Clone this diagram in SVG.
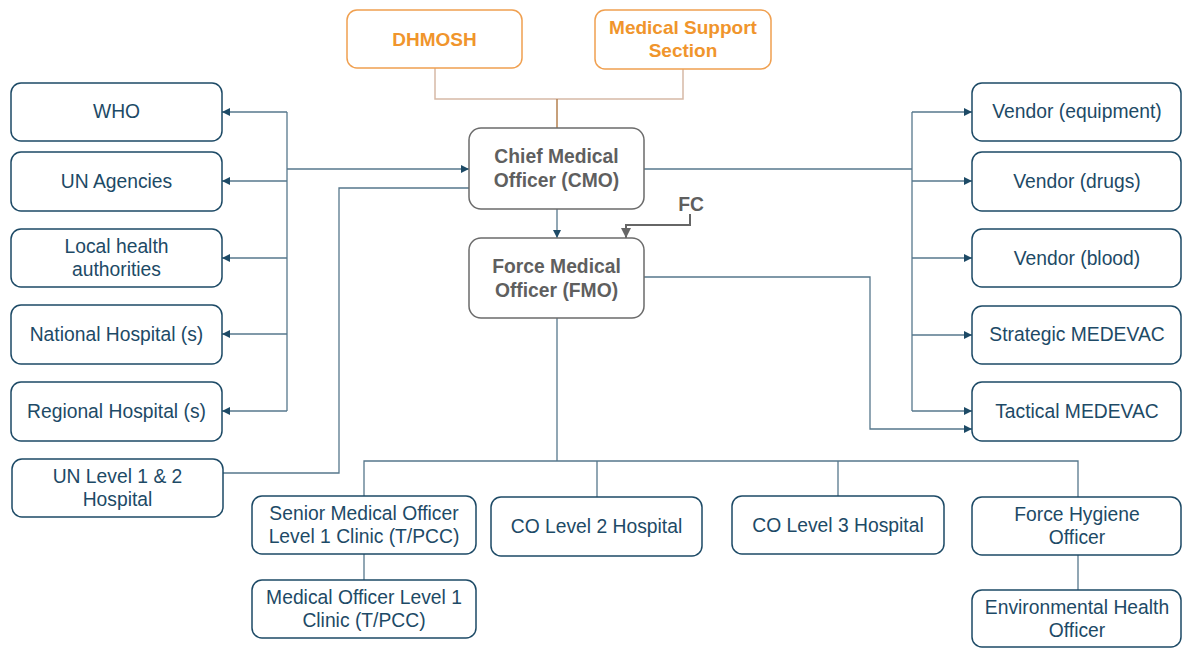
<svg xmlns="http://www.w3.org/2000/svg" width="1182" height="648" viewBox="0 0 1182 648">
  <defs>
    <marker id="arr" viewBox="0 0 10 10" refX="10" refY="5" markerWidth="9" markerHeight="8" markerUnits="userSpaceOnUse" orient="auto">
      <path d="M0,0 L10,5 L0,10 z" fill="#1d4a66"/>
    </marker>
    <marker id="arrGray" viewBox="0 0 10 10" refX="10" refY="5" markerWidth="10" markerHeight="10" markerUnits="userSpaceOnUse" orient="auto">
      <path d="M0,0 L10,5 L0,10 z" fill="#666666"/>
    </marker>
    <style>
      .box { fill: #ffffff; stroke: #1d4a66; stroke-width: 1.5; }
      .boxOrange { fill: #ffffff; stroke: #f0a050; stroke-width: 1.5; }
      .boxGray { fill: #ffffff; stroke: #6b6b6b; stroke-width: 1.5; }
      .t { font-family: "Liberation Sans", Arial, sans-serif; font-size: 19.3px; fill: #1d4a66; text-anchor: middle; }
      .tOrange { font-family: "Liberation Sans", Arial, sans-serif; font-size: 19px; font-weight: bold; fill: #f0952c; text-anchor: middle; }
      .tGray { font-family: "Liberation Sans", Arial, sans-serif; font-size: 19.3px; font-weight: bold; fill: #5f5f5f; text-anchor: middle; }
      .ln { fill: none; stroke: #56778c; stroke-width: 1.3; }
      .lnTan { fill: none; stroke: #d6b9a6; stroke-width: 1.5; }
      .lnBrown { fill: none; stroke: #b5804f; stroke-width: 1.5; }
      .lnGray { fill: none; stroke: #666666; stroke-width: 2; }
    </style>
  </defs>

  <g id="connectors">
    <!-- headquarters to CMO -->
    <path class="lnTan" d="M435,68 V99 H683 V69"/>
    <path class="lnBrown" d="M557,99 V128"/>
    <!-- CMO to FMO -->
    <path class="ln" d="M557,209 V238" marker-end="url(#arr)"/>
    <!-- FC to FMO -->
    <path class="lnGray" d="M690,214 V225 H626 V238" marker-end="url(#arrGray)"/>
    <!-- left bus -->
    <path class="ln" d="M287,112 V411"/>
    <path class="ln" d="M287,112 H222" marker-end="url(#arr)"/>
    <path class="ln" d="M287,181 H222" marker-end="url(#arr)"/>
    <path class="ln" d="M287,258 H222" marker-end="url(#arr)"/>
    <path class="ln" d="M287,334 H222" marker-end="url(#arr)"/>
    <path class="ln" d="M287,411 H222" marker-end="url(#arr)"/>
    <path class="ln" d="M287,169 H469" marker-end="url(#arr)"/>
    <!-- UN Level 1 & 2 to CMO -->
    <path class="ln" d="M223,473 H339 V188 H469"/>
    <!-- right bus -->
    <path class="ln" d="M644,169 H912"/>
    <path class="ln" d="M912,112 V411"/>
    <path class="ln" d="M912,112 H972" marker-end="url(#arr)"/>
    <path class="ln" d="M912,181 H972" marker-end="url(#arr)"/>
    <path class="ln" d="M912,258 H972" marker-end="url(#arr)"/>
    <path class="ln" d="M912,335 H972" marker-end="url(#arr)"/>
    <path class="ln" d="M912,411 H972" marker-end="url(#arr)"/>
    <!-- FMO to Tactical MEDEVAC -->
    <path class="ln" d="M644,277 H870 V429 H972" marker-end="url(#arr)"/>
    <!-- FMO down to units -->
    <path class="ln" d="M557,318 V461"/>
    <path class="ln" d="M364,496 V461 H1078 V497"/>
    <path class="ln" d="M597,461 V497"/>
    <path class="ln" d="M838,461 V496"/>
    <path class="ln" d="M364,554 V580"/>
    <path class="ln" d="M1078,555 V590"/>
  </g>

  <g id="dhmosh">
    <rect class="boxOrange" x="347" y="10" width="175" height="58" rx="10"/>
    <text class="tOrange" x="434.5" y="46">DHMOSH</text>
  </g>
  <g id="medical-support-section">
    <rect class="boxOrange" x="595" y="10" width="176" height="59" rx="10"/>
    <text class="tOrange" x="683" y="34">Medical Support</text>
    <text class="tOrange" x="683" y="57">Section</text>
  </g>

  <g id="cmo">
    <rect class="boxGray" x="469" y="128" width="175" height="81" rx="12"/>
    <text class="tGray" x="556.5" y="163">Chief Medical</text>
    <text class="tGray" x="556.5" y="187">Officer (CMO)</text>
  </g>
  <g id="fmo">
    <rect class="boxGray" x="469" y="238" width="175" height="80" rx="12"/>
    <text class="tGray" x="556.5" y="273">Force Medical</text>
    <text class="tGray" x="556.5" y="297">Officer (FMO)</text>
  </g>
  <g id="fc">
    <text class="tGray" x="691" y="211">FC</text>
  </g>

  <g id="who">
    <rect class="box" x="11" y="83" width="211" height="58" rx="10"/>
    <text class="t" x="116.5" y="118">WHO</text>
  </g>
  <g id="un-agencies">
    <rect class="box" x="11" y="152" width="211" height="59" rx="10"/>
    <text class="t" x="116.5" y="188">UN Agencies</text>
  </g>
  <g id="local-health">
    <rect class="box" x="11" y="229" width="211" height="58" rx="10"/>
    <text class="t" x="116.5" y="253">Local health</text>
    <text class="t" x="116.5" y="276">authorities</text>
  </g>
  <g id="national-hospital">
    <rect class="box" x="11" y="305" width="211" height="59" rx="10"/>
    <text class="t" x="116.5" y="341">National Hospital (s)</text>
  </g>
  <g id="regional-hospital">
    <rect class="box" x="11" y="382" width="211" height="59" rx="10"/>
    <text class="t" x="116.5" y="418">Regional Hospital (s)</text>
  </g>
  <g id="un-level-1-2">
    <rect class="box" x="12" y="459" width="211" height="58" rx="10"/>
    <text class="t" x="117.5" y="483">UN Level 1 &amp; 2</text>
    <text class="t" x="117.5" y="506">Hospital</text>
  </g>

  <g id="vendor-equipment">
    <rect class="box" x="972" y="83" width="209" height="58" rx="10"/>
    <text class="t" x="1077" y="118">Vendor (equipment)</text>
  </g>
  <g id="vendor-drugs">
    <rect class="box" x="972" y="152" width="209" height="59" rx="10"/>
    <text class="t" x="1077" y="188">Vendor (drugs)</text>
  </g>
  <g id="vendor-blood">
    <rect class="box" x="972" y="229" width="209" height="58" rx="10"/>
    <text class="t" x="1077" y="265">Vendor (blood)</text>
  </g>
  <g id="strategic-medevac">
    <rect class="box" x="972" y="306" width="209" height="58" rx="10"/>
    <text class="t" x="1077" y="341">Strategic MEDEVAC</text>
  </g>
  <g id="tactical-medevac">
    <rect class="box" x="972" y="382" width="209" height="59" rx="10"/>
    <text class="t" x="1077" y="418">Tactical MEDEVAC</text>
  </g>

  <g id="senior-medical-officer">
    <rect class="box" x="252" y="496" width="224" height="58" rx="10"/>
    <text class="t" x="364" y="520">Senior Medical Officer</text>
    <text class="t" x="364" y="543">Level 1 Clinic (T/PCC)</text>
  </g>
  <g id="medical-officer">
    <rect class="box" x="252" y="580" width="224" height="58" rx="10"/>
    <text class="t" x="364" y="604">Medical Officer Level 1</text>
    <text class="t" x="364" y="627">Clinic (T/PCC)</text>
  </g>
  <g id="co-level-2">
    <rect class="box" x="491" y="497" width="211" height="59" rx="10"/>
    <text class="t" x="596.5" y="533">CO Level 2 Hospital</text>
  </g>
  <g id="co-level-3">
    <rect class="box" x="732" y="496" width="212" height="58" rx="10"/>
    <text class="t" x="838" y="532">CO Level 3 Hospital</text>
  </g>
  <g id="force-hygiene-officer">
    <rect class="box" x="972" y="497" width="209" height="58" rx="10"/>
    <text class="t" x="1077" y="521">Force Hygiene</text>
    <text class="t" x="1077" y="544">Officer</text>
  </g>
  <g id="environmental-health-officer">
    <rect class="box" x="972" y="590" width="209" height="57" rx="10"/>
    <text class="t" x="1077" y="614">Environmental Health</text>
    <text class="t" x="1077" y="637">Officer</text>
  </g>
</svg>
